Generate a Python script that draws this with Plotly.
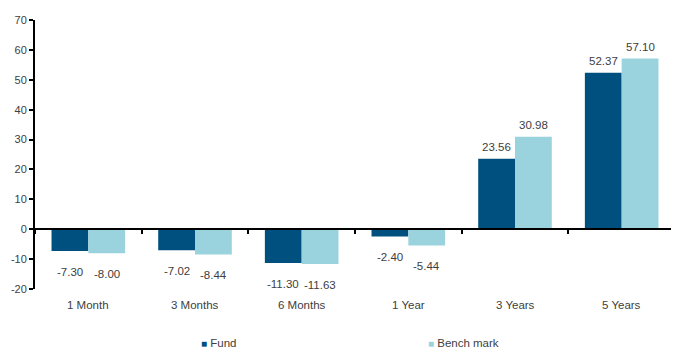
import plotly.graph_objects as go

categories = ["1 Month", "3 Months", "6 Months", "1 Year", "3 Years", "5 Years"]
fund = [-7.30, -7.02, -11.30, -2.40, 23.56, 52.37]
benchmark = [-8.00, -8.44, -11.63, -5.44, 30.98, 57.10]
series_names = ["Fund", "Benchmark"]
legend_labels = ["Fund", "Bench mark"]
y_ticks = [-20, -10, 0, 10, 20, 30, 40, 50, 60, 70]
y_ticktext = [str(v) for v in y_ticks]

C_FUND = "#00507f"
C_BENCH = "#9ad3de"
FONT = "Liberation Sans Narrow, Arial Narrow, Liberation Sans, Arial, sans-serif"
TXT = "#404040"
FS = 11.5

fig = go.Figure()
fig.add_bar(x=categories, y=fund, name=series_names[0], marker_color=C_FUND, marker_line_width=0)
fig.add_bar(x=categories, y=benchmark, name=series_names[1], marker_color=C_BENCH, marker_line_width=0)

# page body has an 8px default margin
W, H = 671, 341
ml, mr, mt, mb = 27, 4, 12, 60
plot_w = W - ml - mr
cat_w = plot_w / len(categories)
bargap = 0.31
bar_w = cat_w * (1 - bargap) / 2

anns = []
for vals, off in ((fund, -bar_w / 2), (benchmark, bar_w / 2)):
    for c, v in zip(categories, vals):
        anns.append(dict(x=c, y=v, xref="x", yref="y", text=f"{v:.2f}", showarrow=False,
                         xshift=off, yshift=(12 if v >= 0 else -21), yanchor="middle",
                         font=dict(family=FONT, size=FS, color=TXT)))
for c in categories:
    anns.append(dict(x=c, y=0, xref="x", yref="paper", text=c, showarrow=False,
                     yshift=-16, yanchor="middle", font=dict(family=FONT, size=FS, color=TXT)))

# legend as annotations (page x positions)
leg_x = [199, 426]
for lab, col, px in zip(legend_labels, [C_FUND, C_BENCH], leg_x):
    anns.append(dict(x=(px - 8 - ml) / plot_w, y=0, xref="paper", yref="paper",
                     text=f"<span style='color:{col};font-size:10px'>■</span> {lab}",
                     showarrow=False, xanchor="left", yanchor="middle", yshift=-54,
                     font=dict(family=FONT, size=FS, color=TXT)))

ymin, ymax = -20, 70
fig.update_layout(
    width=W, height=H, margin=dict(l=ml, r=mr, t=mt, b=mb, autoexpand=False),
    paper_bgcolor="white", plot_bgcolor="white",
    barmode="group", bargap=bargap, bargroupgap=0,
    showlegend=False,
    font=dict(family=FONT, size=FS, color=TXT),
    annotations=anns,
    xaxis=dict(type="category", categoryarray=categories, range=[-0.5, 5.5],
               anchor="free", position=(0 - ymin) / (ymax - ymin), automargin=False,
               showline=True, linecolor="black", linewidth=2,
               ticks="outside", tickson="boundaries", ticklen=4, tickwidth=2, tickcolor="black",
               showticklabels=False, showgrid=False, zeroline=False),
    yaxis=dict(range=[ymin, ymax], tickvals=y_ticks, ticktext=y_ticktext,
               showgrid=False, zeroline=False, automargin=False,
               showline=True, linecolor="black", linewidth=2,
               ticks="outside", ticklen=4, tickwidth=2, tickcolor="black",
               tickfont=dict(family=FONT, size=11, color=TXT)),
)

fig.write_html("out.html")
